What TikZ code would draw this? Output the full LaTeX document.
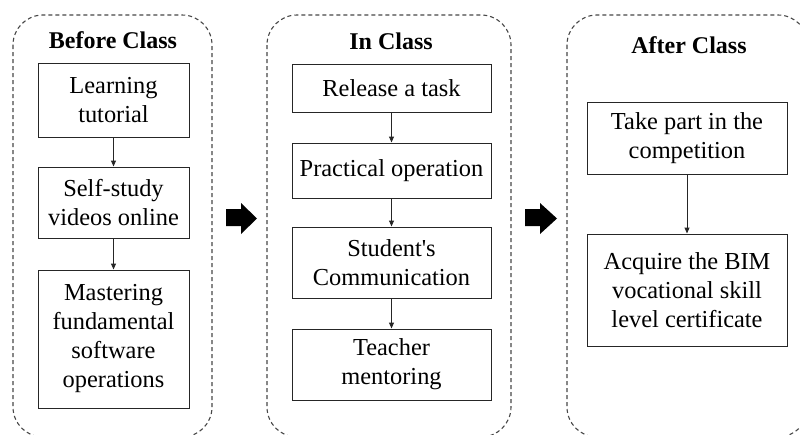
\documentclass[tikz,border=0pt]{standalone}
\usepackage{fontspec}
\setmainfont{Liberation Serif}
% same face without TeX ligatures, so ' stays a straight quote
\newfontfamily\plainserif{Liberation Serif}
\usetikzlibrary{arrows.meta}
\begin{document}
\begin{tikzpicture}[x=1pt,y=-1pt,
  phase/.style={draw=black!72, dash pattern=on 4pt off 3pt, line width=1.1pt, rounded corners=30pt},
  stepbox/.style={draw=black!85, line width=1pt, align=center, inner sep=0pt,
    font=\fontsize{24.4}{29}\selectfont},
  title/.style={font=\bfseries\fontsize{24}{29}\selectfont, anchor=base},
  link/.style={draw=black!85, line width=1pt, -{Triangle[length=6pt,width=5pt]}},
  bigarrow/.style={fill=black}]
\useasboundingbox (0,0) rectangle (800,434);

% dashed phase frames, running past the lower edge
\begin{scope}
  \clip (0,0) rectangle (800,434);
  \draw[phase] (13,15) rectangle (212,437);
  \draw[phase] (267,15) rectangle (511,437);
  \draw[phase] (567,15) rectangle (808,437);
\end{scope}

% phase titles
\node[title] (tb) at (113,48) {Before Class};
\node[title] (ti) at (391,49) {In Class};
\node[title] (ta) at (689,53) {After Class};

% before class
\node[stepbox, minimum width=151pt, minimum height=74pt] (b1) at (113.5,100) {Learning\\tutorial};
\node[stepbox, minimum width=151pt, minimum height=71pt] (b2) at (113.5,202.5) {Self-study\\videos online};
\node[stepbox, minimum width=151pt, minimum height=138pt] (b3) at (113.5,339) {Mastering\\fundamental\\software\\operations};

% in class
\node[stepbox, minimum width=199pt, minimum height=48pt] (i1) at (391.5,88) {Release a task};
\node[stepbox, minimum width=199pt, minimum height=55pt] (i2) at (391.5,170.5) {Practical operation};
\node[stepbox, minimum width=199pt, minimum height=71pt] (i3) at (391.5,262.5) {{\plainserif Student's}\\Communication};
\node[stepbox, minimum width=199pt, minimum height=71pt] (i4) at (391.5,364.5) {Teacher\\mentoring};

% after class
\node[stepbox, minimum width=200pt, minimum height=72pt] (a1) at (687,138) {Take part in the\\competition};
\node[stepbox, minimum width=200pt, minimum height=112pt] (a2) at (687,290) {Acquire the BIM\\vocational skill\\level certificate};

% flow within each phase
\draw[link] (b1) -- (b2);
\draw[link] (b2) -- (b3);
\draw[link] (i1) -- (i2);
\draw[link] (i2) -- (i3);
\draw[link] (i3) -- (i4);
\draw[link] (a1) -- (a2);

% block arrows between phases
\fill[bigarrow] (226,209) -- (241,209) -- (241,203) -- (257,218.5) -- (241,234) -- (241,226) -- (226,226) -- cycle;
\fill[bigarrow] (525,209) -- (540,209) -- (540,203) -- (557,218.5) -- (540,234) -- (540,226) -- (525,226) -- cycle;
\end{tikzpicture}
\end{document}
